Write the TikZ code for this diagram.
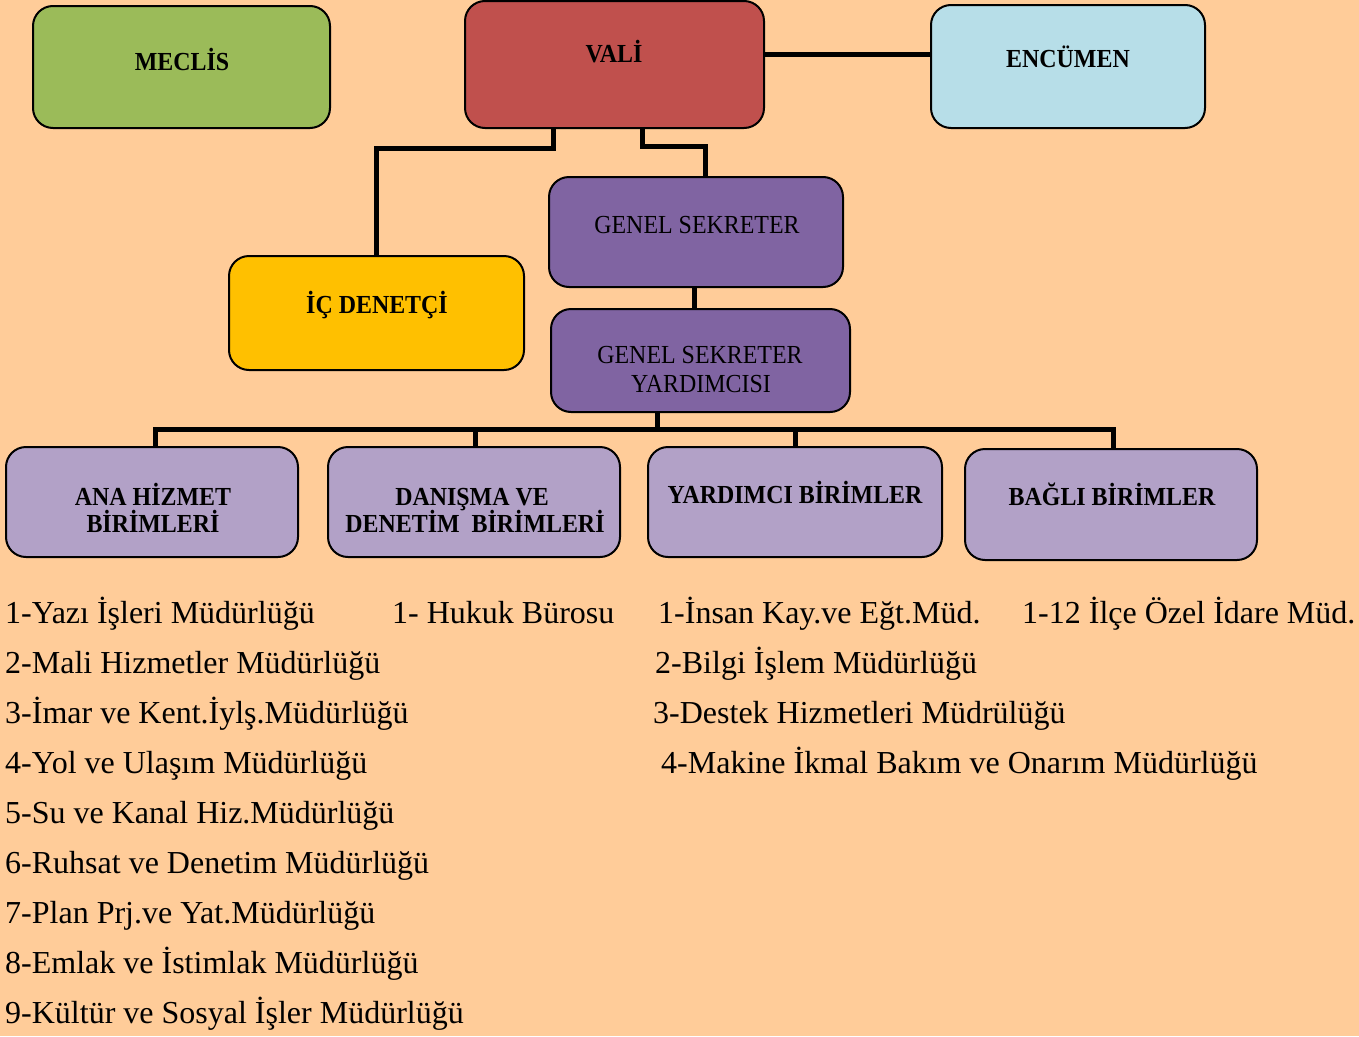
\documentclass[tikz,border=0pt]{standalone}
\usepackage{fontspec}
\setmainfont{Liberation Serif}
\newfontfamily\condfont[FakeStretch=0.92]{Liberation Serif}
\definecolor{bg}{HTML}{FFCC99}
\definecolor{cgreen}{HTML}{9BBB59}
\definecolor{cred}{HTML}{C0504D}
\definecolor{cblue}{HTML}{B7DEE8}
\definecolor{cyellow}{HTML}{FFC000}
\definecolor{cpurple}{HTML}{8064A2}
\definecolor{clilac}{HTML}{B2A1C7}
\tikzset{
  box/.style={draw=black, line width=2pt, rounded corners=20pt, inner sep=0pt, outer sep=0pt},
  conn/.style={draw=black, line width=5pt, line cap=butt, line join=miter},
  boldlbl/.style={inner sep=0pt, anchor=base, font=\fontsize{26}{29}\selectfont\condfont\bfseries, align=center},
  reglbl/.style={inner sep=0pt, anchor=base, font=\fontsize{26}{29}\selectfont\condfont, align=center},
  item/.style={inner sep=0pt, anchor=base west, font=\fontsize{32}{36}\selectfont}
}
\begin{document}
\begin{tikzpicture}[x=1pt,y=-1pt]
\fill[bg] (0,0) rectangle (1359,1036);
\useasboundingbox (0,0) rectangle (1359,1036);
% boxes
\node[box, fill=cgreen, minimum width=297pt, minimum height=122pt] (meclis) at (181.5,67) {};
\node[box, fill=cred, minimum width=299pt, minimum height=127pt] (vali) at (614.5,64.5) {};
\node[box, fill=cblue, minimum width=274pt, minimum height=123pt] (enc) at (1068,66.5) {};
\node[box, fill=cpurple, minimum width=294pt, minimum height=110pt] (gs) at (696,232) {};
\node[box, fill=cyellow, minimum width=295pt, minimum height=114pt] (idc) at (376.5,313) {};
\node[box, fill=cpurple, minimum width=299pt, minimum height=103pt] (gsy) at (700.5,360.5) {};
\node[box, fill=clilac, minimum width=292pt, minimum height=110pt] (ana) at (152,502) {};
\node[box, fill=clilac, minimum width=292pt, minimum height=110pt] (dan) at (474,502) {};
\node[box, fill=clilac, minimum width=294pt, minimum height=110pt] (yard) at (795,502) {};
\node[box, fill=clilac, minimum width=292pt, minimum height=111pt] (bagli) at (1111,504.5) {};
% box labels
\node[boldlbl] (t-meclis) at (182,70) {MECLİS};
\node[boldlbl] (t-vali) at (614,62) {VALİ};
\node[boldlbl] (t-enc) at (1068,67) {ENCÜMEN};
\node[reglbl] (t-gs) at (697,233) {GENEL SEKRETER};
\node[boldlbl] (t-idc) at (377,313) {İÇ DENETÇİ};
\node[reglbl] (t-gsy1) at (700,363) {GENEL SEKRETER};
\node[reglbl] (t-gsy2) at (701,392) {YARDIMCISI};
\node[boldlbl] (t-ana1) at (153,505) {ANA HİZMET};
\node[boldlbl] (t-ana2) at (153,532) {BİRİMLERİ};
\node[boldlbl] (t-dan1) at (472,505) {DANIŞMA VE};
\node[boldlbl] (t-dan2) at (475,532) {DENETİM\ \ BİRİMLERİ};
\node[boldlbl] (t-yard) at (795,503) {YARDIMCI BİRİMLER};
\node[boldlbl] (t-bagli) at (1112,505) {BAĞLI BİRİMLER};
% connector helper coordinates
\coordinate (ve) at (850,54);
\coordinate (vL) at (553,148);
\coordinate (vR) at (642,146);
\coordinate (vR2) at (705,146);
\coordinate (g1) at (694,300);
\coordinate (bus) at (657,429);
\coordinate (bA) at (155,429);
\coordinate (bD) at (475,429);
\coordinate (bY) at (795,429);
\coordinate (bB) at (1113,429);
% connectors
\draw[conn] (vali.east |- ve) -- (enc.west |- ve);
\draw[conn] (vali.south -| vL) -- (vL) -| (idc.north);
\draw[conn] (vali.south -| vR) -- (vR) -- (vR2) -- (vR2 |- gs.north);
\draw[conn] (gs.south -| g1) -- (gsy.north -| g1);
\draw[conn] (gsy.south -| bus) -- (bus);
\draw[conn] (ana.north -| bA) -- (bA) -- (bB) -- (bagli.north -| bB);
\draw[conn] (dan.north -| bD) -- (bD);
\draw[conn] (yard.north -| bY) -- (bY);
% lists
\node[item] (a1) at (5,623) {1-Yazı İşleri Müdürlüğü};
\node[item] (a2) at (5,673) {2-Mali Hizmetler Müdürlüğü};
\node[item] (a3) at (5,723) {3-İmar ve Kent.İylş.Müdürlüğü};
\node[item] (a4) at (5,773) {4-Yol ve Ulaşım Müdürlüğü};
\node[item] (a5) at (5,823) {5-Su ve Kanal Hiz.Müdürlüğü};
\node[item] (a6) at (5,873) {6-Ruhsat ve Denetim Müdürlüğü};
\node[item] (a7) at (5,923) {7-Plan Prj.ve Yat.Müdürlüğü};
\node[item] (a8) at (5,973) {8-Emlak ve İstimlak Müdürlüğü};
\node[item] (a9) at (5,1023) {9-Kültür ve Sosyal İşler Müdürlüğü};
\node[item] (b1) at (392,623) {1- Hukuk Bürosu};
\node[item] (c1) at (658,623) {1-İnsan Kay.ve Eğt.Müd.};
\node[item] (c2) at (655,673) {2-Bilgi İşlem Müdürlüğü};
\node[item] (c3) at (653,723) {3-Destek Hizmetleri Müdrülüğü};
\node[item] (c4) at (661,773) {4-Makine İkmal Bakım ve Onarım Müdürlüğü};
\node[item] (d1) at (1022,623) {1-12 İlçe Özel İdare Müd.};
\end{tikzpicture}
\end{document}
